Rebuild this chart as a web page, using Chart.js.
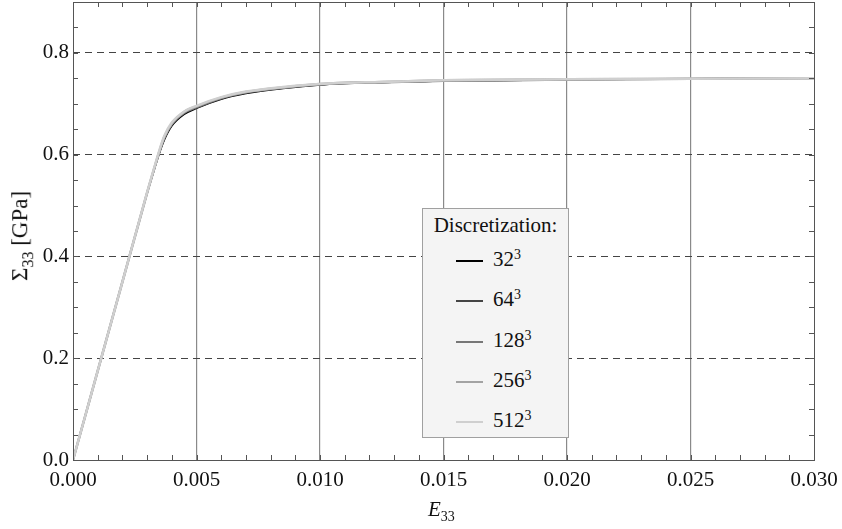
<!DOCTYPE html>
<html>
<head>
<meta charset="utf-8">
<script src="https://cdn.jsdelivr.net/npm/chart.js@4"></script>
<style>
  html, body { margin: 0; padding: 0; background: #fff; }
  #wrap { position: relative; width: 842px; height: 529px; font-family: 'Liberation Serif', 'Times New Roman', serif; color: #111; }
  #chart { position: absolute; left: 0; top: 0; }
  .ttl { position: absolute; font-size: 21px; white-space: nowrap; }
  .ttl sub, .leg sup { font-size: 14px; }
  #xTitle { left: 428px; top: 497px; }
  #yTitle { left: 22px; top: 236px; font-size: 23px; transform: translate(-50%, -50%) rotate(-90deg); }
  #yTitle sub { font-size: 16px; }
  #legend { position: absolute; left: 422px; top: 208px; width: 145px; height: 228px; background: #f4f4f4; border: 1px solid #a0a0a0; font-size: 21px; }
  #legend .head { text-align: center; margin-top: 4px; height: 34px; }
  .leg { position: relative; height: 40.3px; }
  .leg .swatch { position: absolute; left: 33px; top: 13px; width: 27px; height: 2px; }
  .leg .lbl { position: absolute; left: 70px; top: 0; }
  .leg sup { vertical-align: 7px; }
</style>
</head>
<body>
<div id="wrap">
  <canvas id="chart" width="842" height="529"></canvas>
  <div class="ttl" id="xTitle"><i>E</i><sub>33</sub></div>
  <div class="ttl" id="yTitle">Σ<sub>33</sub> [GPa]</div>
  <div id="legend"><div class="head">Discretization:</div></div>
</div>
<script>
/* ---- data ---- */
const strain = [0, 0.001, 0.002, 0.003, 0.0033, 0.0035, 0.0037, 0.004, 0.0045, 0.005, 0.006, 0.007, 0.0085, 0.010, 0.0125, 0.015, 0.020, 0.025, 0.030];

const stress32  = [0, 0.175, 0.350, 0.524, 0.572, 0.603, 0.629, 0.656, 0.679, 0.691, 0.709, 0.720, 0.730, 0.737, 0.742, 0.745, 0.747, 0.749, 0.751];
const stress64  = [0, 0.175, 0.350, 0.524, 0.573, 0.604, 0.631, 0.658, 0.681, 0.692, 0.710, 0.721, 0.731, 0.738, 0.742, 0.745, 0.747, 0.749, 0.751];
const stress128 = [0, 0.175, 0.350, 0.525, 0.574, 0.606, 0.633, 0.660, 0.682, 0.693, 0.711, 0.722, 0.731, 0.738, 0.742, 0.745, 0.747, 0.749, 0.750];
const stress256 = [0, 0.175, 0.350, 0.525, 0.575, 0.607, 0.635, 0.661, 0.684, 0.695, 0.712, 0.723, 0.732, 0.739, 0.743, 0.746, 0.748, 0.749, 0.750];
const stress512 = [0, 0.175, 0.350, 0.526, 0.576, 0.609, 0.637, 0.663, 0.685, 0.696, 0.713, 0.724, 0.733, 0.739, 0.743, 0.746, 0.748, 0.749, 0.750];

const seriesBase = ['32', '64', '128', '256', '512'];
const seriesExp = '3';
const seriesData = [stress32, stress64, stress128, stress256, stress512];
const seriesColors = ['#000000', '#454545', '#777777', '#a3a3a3', '#cfcfcf'];
const seriesWidths = [1.5, 1.5, 2, 2.5, 2.5];

const xTickLabels = ['0.000', '0.005', '0.010', '0.015', '0.020', '0.025', '0.030'];
const yTickLabels = ['0.0', '0.2', '0.4', '0.6', '0.8'];

const FONT = "'Liberation Serif', 'Times New Roman', serif";

/* ---- html legend ---- */
const legend = document.getElementById('legend');
seriesBase.forEach((b, i) => {
  const row = document.createElement('div');
  row.className = 'leg';
  row.innerHTML = `<div class="swatch" style="background:${seriesColors[i]};"></div><div class="lbl">${b}<sup>${seriesExp}</sup></div>`;
  legend.appendChild(row);
});

/* ---- frame + inward minor ticks ---- */
const framePlugin = {
  id: 'frame',
  afterDraw(chart) {
    const { ctx, chartArea: a, scales: { x, y } } = chart;
    ctx.save();
    ctx.strokeStyle = '#555';
    ctx.lineWidth = 1;
    ctx.beginPath();
    x.ticks.forEach(t => {
      const px = Math.round(x.getPixelForValue(t.value)) + 0.5;
      ctx.moveTo(px, a.bottom); ctx.lineTo(px, a.bottom - 5);
      ctx.moveTo(px, a.top); ctx.lineTo(px, a.top + 5);
    });
    y.ticks.forEach(t => {
      const py = Math.round(y.getPixelForValue(t.value)) + 0.5;
      ctx.moveTo(a.left, py); ctx.lineTo(a.left + 5, py);
      ctx.moveTo(a.right, py); ctx.lineTo(a.right - 5, py);
    });
    ctx.stroke();
    ctx.strokeRect(Math.round(a.left) + 0.5, Math.round(a.top) + 0.5, Math.round(a.right - a.left), Math.round(a.bottom - a.top));
    ctx.restore();
  }
};

const isMajorX = v => Math.round(v * 1000) % 5 === 0;
const isMajorY = v => Math.round(v * 100) % 20 === 0;

new Chart(document.getElementById('chart'), {
  type: 'line',
  data: {
    datasets: seriesData.map((d, i) => ({
      label: seriesBase[i] + '³',
      data: d.map((v, k) => ({ x: strain[k], y: v })),
      borderColor: seriesColors[i],
      borderWidth: seriesWidths[i],
      pointRadius: 0,
      fill: false,
      cubicInterpolationMode: 'monotone',
      order: seriesData.length - 1 - i
    }))
  },
  options: {
    responsive: false, animation: false,
    layout: { padding: { top: 2, right: 28, left: 0, bottom: 0 } },
    plugins: { legend: { display: false }, tooltip: { enabled: false } },
    scales: {
      x: {
        type: 'linear', min: 0, max: 0.03,
        afterFit: s => { s.height = 69; s.paddingLeft = 0; s.paddingRight = 0; },
        ticks: {
          stepSize: 0.001, autoSkip: false, maxRotation: 0, padding: 8,
          color: '#111', font: { family: FONT, size: 21 },
          callback: v => isMajorX(v) ? xTickLabels[Math.round(v * 200)] : ''
        },
        grid: {
          drawTicks: false,
          color: c => (isMajorX(c.tick.value) && c.tick.value > 0.0001 && c.tick.value < 0.0299) ? '#8a8a8a' : 'rgba(0,0,0,0)',
          lineWidth: 1.2
        },
        border: { display: false }
      },
      y: {
        type: 'linear', min: 0, max: 0.9,
        afterFit: s => { s.width = 73; s.paddingTop = 0; s.paddingBottom = 0; },
        ticks: {
          stepSize: 0.05, autoSkip: false, padding: 4,
          color: '#111', font: { family: FONT, size: 21 },
          callback: v => isMajorY(v) ? yTickLabels[Math.round(v * 5)] : ''
        },
        grid: {
          drawTicks: false,
          color: c => (isMajorY(c.tick.value) && c.tick.value > 0.001 && c.tick.value < 0.85) ? '#444' : 'rgba(0,0,0,0)',
          lineWidth: 1
        },
        border: { display: false, dash: [7, 5] }
      }
    }
  },
  plugins: [framePlugin]
});
</script>
</body>
</html>
